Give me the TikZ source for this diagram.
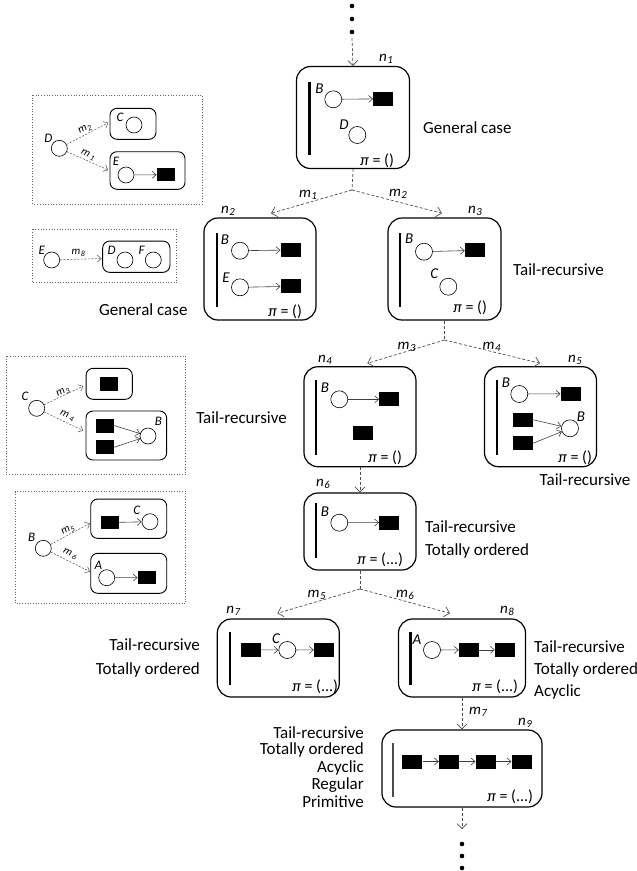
\documentclass[tikz,border=0pt]{standalone}
\usepackage{fontspec}
\setmainfont{Carlito}
\usetikzlibrary{arrows.meta}
\newcommand\sbs[2]{#1\kern0.6pt\raisebox{-0.35ex}{\scalebox{0.72}{#2}}}
\newcommand\sbr[2]{#1\kern1.6pt\raisebox{-0.2ex}{\scalebox{0.72}{#2}}}
\begin{document}
\begin{tikzpicture}[x=1pt,y=-1pt,
 bigbox/.style={draw,rounded corners=14pt,line width=1.2pt,inner sep=0},
 pbox/.style={draw,rounded corners=7pt,line width=0.9pt,inner sep=0},
 st/.style={circle,draw,line width=0.6pt,minimum size=17pt,inner sep=0},
 pst/.style={circle,draw,line width=0.6pt,minimum size=16pt,inner sep=0},
 blk/.style={fill=black,minimum width=20pt,minimum height=14pt,inner sep=0},
 pblk/.style={fill=black,minimum width=18pt,minimum height=13pt,inner sep=0},
 vbar/.style={line width=2.4pt},
 conn/.style={draw=black!70,line width=0.7pt,dash pattern=on 3pt off 2pt,-{Straight Barb[length=5pt,width=10pt]}},
 connl/.style={draw=black!70,line width=0.7pt,dash pattern=on 3pt off 2pt},
 pconn/.style={draw=black!60,line width=0.6pt,dash pattern=on 2pt off 1.5pt,-{Straight Barb[length=4pt,width=7pt]}},
 inarr/.style={draw=black!75,line width=0.6pt,-{Straight Barb[length=4pt,width=7pt]}},
 lbl/.style={font=\fontsize{15}{15}\selectfont\itshape,inner sep=0},
 plbl/.style={font=\fontsize{13}{13}\selectfont\itshape,inner sep=0},
 mlbl/.style={font=\fontsize{11}{11}\selectfont\itshape,inner sep=0},
 pilbl/.style={font=\fontsize{16}{16}\selectfont,inner sep=0},
 txt/.style={font=\fontsize{17}{18}\selectfont,inner sep=0},
 dotbox/.style={draw=black!60,line width=0.7pt,dotted},
]
\useasboundingbox (0,0) rectangle (637,871);

% ---------- top dots
\fill (352,6) circle[radius=2.3pt];
\fill (352,19) circle[radius=2.3pt];
\fill (352,32) circle[radius=2.3pt];
\coordinate (top) at (352,38);

% ---------- n1
\node[bigbox,minimum width=113pt,minimum height=102pt] (n1) at (353,117.5) {};
\draw[vbar] (309.3,81.7) -- (309.3,155);
\node[st] (n1B) at (333.3,99.3) {};
\node[lbl] (n1Bl) at (319.5,88.5) {B};
\node[blk] (n1r) at (383.3,98.8) {};
\node[st] (n1D) at (357.3,135) {};
\node[lbl] (n1Dl) at (344,125) {D};
\node[pilbl] (n1p) at (377,161) {\textit{π} = ()};
\node[lbl] (n1l) at (386,59) {\sbs{n}{1}};
\node[txt,anchor=west] (t1) at (423,128) {General case};
\draw[inarr] (n1B) -- (n1r);
\draw[conn] (top) -- (n1.north);

% ---------- n2
\node[bigbox,minimum width=112pt,minimum height=102pt] (n2) at (260,269) {};
\draw[vbar] (216.7,233) -- (216.7,306.7);
\node[st] (n2B) at (240,250.7) {};
\node[lbl] (n2Bl) at (225,240) {B};
\node[blk] (n2r1) at (290.7,250) {};
\node[st] (n2E) at (240,287.3) {};
\node[lbl] (n2El) at (226,277.7) {E};
\node[blk] (n2r2) at (290.7,286.3) {};
\node[pilbl] (n2p) at (285,312) {\textit{π} = ()};
\node[lbl] (n2l) at (228,211) {\sbs{n}{2}};
\node[txt] (t2) at (143.3,310) {General case};
\draw[inarr] (n2B) -- (n2r1);
\draw[inarr] (n2E) -- (n2r2);

% ---------- n3
\node[bigbox,minimum width=113pt,minimum height=102pt] (n3) at (444.5,269) {};
\draw[vbar] (400,233) -- (400,306.7);
\node[st] (n3B) at (424,251.7) {};
\node[lbl] (n3Bl) at (409.3,238.3) {B};
\node[blk] (n3r) at (475,250.3) {};
\node[st] (n3C) at (448.3,286.7) {};
\node[lbl] (n3Cl) at (434.3,274) {C};
\node[pilbl] (n3p) at (470,308) {\textit{π} = ()};
\node[lbl] (n3l) at (475,211) {\sbs{n}{3}};
\node[txt,anchor=west] (t3) at (513,270) {Tail-recursive};
\draw[inarr] (n3B) -- (n3r);

% split 1
\coordinate (s1) at (352,190);
\coordinate (e1) at (271,213.3);
\coordinate (e2) at (442,213.3);
\draw[connl] (n1.south) -- (s1);
\draw[conn] (s1) -- (e1);
\draw[conn] (s1) -- (e2);
\node[lbl] (m1) at (308,195) {\sbs{m}{1}};
\node[lbl] (m2) at (398,194) {\sbs{m}{2}};

% ---------- n4
\node[bigbox,minimum width=112pt,minimum height=100pt] (n4) at (360,416.7) {};
\draw[vbar] (315.7,380) -- (315.7,455);
\node[st] (n4B) at (339.3,399.3) {};
\node[lbl] (n4Bl) at (325,388) {B};
\node[blk] (n4r1) at (389.3,399.3) {};
\node[blk] (n4r2) at (363.3,433) {};
\node[pilbl] (n4p) at (385,458) {\textit{π} = ()};
\node[lbl] (n4l) at (325,360) {\sbs{n}{4}};
\node[txt,anchor=east] (t4) at (287,418) {Tail-recursive};
\draw[inarr] (n4B) -- (n4r1);

% ---------- n5
\node[bigbox,minimum width=112pt,minimum height=100pt] (n5) at (540.5,416.7) {};
\draw[vbar] (496.7,380) -- (496.7,455);
\node[st] (n5B) at (519.3,394) {};
\node[lbl] (n5Bl) at (506,383) {B};
\node[blk] (n5r1) at (570.7,393.7) {};
\node[blk] (n5r2) at (522.7,419.7) {};
\node[blk] (n5r3) at (522.7,443.3) {};
\node[st] (n5B2) at (570,428.3) {};
\node[lbl] (n5B2l) at (581,416.7) {B};
\node[pilbl] (n5p) at (575,458) {\textit{π} = ()};
\node[lbl] (n5l) at (575,360) {\sbs{n}{5}};
\node[txt] (t5) at (585,480) {Tail-recursive};
\draw[inarr] (n5B) -- (n5r1);
\draw[inarr] (n5r2.east) -- (n5B2);
\draw[inarr] (n5r3.east) -- (n5B2);

% split 2
\coordinate (s2) at (444.5,340);
\coordinate (e3) at (367.3,363.3);
\coordinate (e4) at (540,363.3);
\draw[connl] (n3.south) -- (s2);
\draw[conn] (s2) -- (e3);
\draw[conn] (s2) -- (e4);
\node[lbl] (m3) at (406.7,347) {\sbs{m}{3}};
\node[lbl] (m4) at (491.7,346.7) {\sbs{m}{4}};

% ---------- n6
\node[bigbox,minimum width=112pt,minimum height=77pt] (n6) at (360,531.5) {};
\draw[vbar] (315.7,503) -- (315.7,558);
\node[st] (n6B) at (339.3,522.7) {};
\node[lbl] (n6Bl) at (325,511.7) {B};
\node[blk] (n6r) at (389.3,522.5) {};
\node[pilbl] (n6p) at (380,560) {\textit{π} = (...)};
\node[lbl] (n6l) at (323,484) {\sbs{n}{6}};
\node[txt,anchor=west] (t6a) at (425,527) {Tail-recursive};
\node[txt,anchor=west] (t6b) at (425,551) {Totally ordered};
\draw[inarr] (n6B) -- (n6r);
\draw[conn] (n4.south) -- (n6.north);

% split 3
\coordinate (s3) at (360,589);
\coordinate (e5) at (277.3,613.3);
\coordinate (e6) at (450,613.3);
\draw[connl] (n6.south) -- (s3);
\draw[conn] (s3) -- (e5);
\draw[conn] (s3) -- (e6);
\node[lbl] (m5) at (316.7,595) {\sbs{m}{5}};
\node[lbl] (m6) at (405,595) {\sbs{m}{6}};

% ---------- n7
\node[bigbox,minimum width=122pt,minimum height=78pt] (n7) at (278.3,658) {};
\draw[vbar] (230,631.7) -- (230,685);
\node[blk] (n7r1) at (250.7,649.8) {};
\node[st] (n7C) at (287.3,650) {};
\node[lbl] (n7Cl) at (276,638.3) {C};
\node[blk] (n7r2) at (324,649.8) {};
\node[pilbl] (n7p) at (315,687) {\textit{π} = (...)};
\node[lbl] (n7l) at (233.3,611) {\sbs{n}{7}};
\node[txt,anchor=east] (t7a) at (200,645) {Tail-recursive};
\node[txt,anchor=east] (t7b) at (200,670) {Totally ordered};
\draw[inarr] (n7r1) -- (n7C);
\draw[inarr] (n7C) -- (n7r2);

% ---------- n8
\node[bigbox,minimum width=127pt,minimum height=78pt] (n8) at (462,658) {};
\draw[vbar] (410.5,631.7) -- (410.5,685);
\node[st] (n8A) at (432,650) {};
\node[lbl] (n8Al) at (417,640) {A};
\node[blk] (n8r1) at (469,649.8) {};
\node[blk] (n8r2) at (505,649.8) {};
\node[pilbl] (n8p) at (495,687) {\textit{π} = (...)};
\node[lbl] (n8l) at (507,611) {\sbs{n}{8}};
\node[txt,anchor=west] (t8a) at (534,647) {Tail-recursive};
\node[txt,anchor=west] (t8b) at (534,670) {Totally ordered};
\node[txt,anchor=west] (t8c) at (534,692) {Acyclic};
\draw[inarr] (n8A) -- (n8r1);
\draw[inarr] (n8r1) -- (n8r2);

% ---------- n9
\node[bigbox,minimum width=160pt,minimum height=77pt] (n9) at (462,768.5) {};
\draw[line width=1.6pt,black!70] (392.7,743) -- (392.7,796.7);
\node[blk] (n9r1) at (412.3,761.5) {};
\node[blk] (n9r2) at (449,761.5) {};
\node[blk] (n9r3) at (485.7,761.5) {};
\node[blk] (n9r4) at (521.7,761.5) {};
\node[pilbl] (n9p) at (510,797) {\textit{π} = (...)};
\node[lbl] (n9l) at (525,723) {\sbs{n}{9}};
\node[lbl] (m7) at (478,712) {\sbs{m}{7}};
\node[txt,anchor=east] (t9a) at (364,733) {Tail-recursive};
\node[txt,anchor=east] (t9b) at (364,750) {Totally ordered};
\node[txt,anchor=east] (t9c) at (364,768) {Acyclic};
\node[txt,anchor=east] (t9d) at (364,785) {Regular};
\node[txt,anchor=east] (t9e) at (364,802) {Primitive};
\draw[inarr] (n9r1) -- (n9r2);
\draw[inarr] (n9r2) -- (n9r3);
\draw[inarr] (n9r3) -- (n9r4);
\draw[conn] (n8.south) -- (n9.north);
\coordinate (bot) at (462,829);
\draw[conn] (n9.south) -- (bot);
\fill (462,844) circle[radius=2.3pt];
\fill (462,856) circle[radius=2.3pt];
\fill (462,868) circle[radius=2.3pt];

% ---------- panel 1
\draw[dotbox] (32.7,95) rectangle (202.3,204);
\node[pst] (p1D) at (59.3,148.3) {};
\node[plbl] (p1Dl) at (48.3,138.3) {D};
\node[pbox,minimum width=46pt,minimum height=31pt] (p1b1) at (133,123.8) {};
\node[pst] (p1C) at (134,125) {};
\node[plbl] (p1Cl) at (120,117.7) {C};
\node[pbox,minimum width=75pt,minimum height=37.6pt] (p1b2) at (147.5,170.5) {};
\node[pst] (p1E) at (126,175) {};
\node[plbl] (p1El) at (116,161.7) {E};
\node[pblk] (p1r) at (165.8,174.7) {};
\draw[inarr] (p1E) -- (p1r);
\coordinate (p1e1) at (108.3,122.7);
\coordinate (p1e2) at (108.3,170);
\draw[pconn] (p1D) -- (p1e1);
\draw[pconn] (p1D) -- (p1e2);
\node[mlbl,rotate=27] (p1m2) at (85,129) {\sbs{m}{2}};
\node[mlbl,rotate=-27] (p1m1) at (88,155) {\sbr{m}{1}};

% ---------- panel 2
\draw[dotbox] (32.7,229.3) rectangle (176.7,282.7);
\node[pst] (p2E) at (51.7,260) {};
\node[plbl] (p2El) at (41.7,250) {E};
\node[pbox,minimum width=67.3pt,minimum height=31.3pt] (p2b) at (136.3,256.7) {};
\node[pst] (p2D) at (125,260) {};
\node[plbl] (p2Dl) at (111.7,250) {D};
\node[pst] (p2F) at (153.3,260) {};
\node[plbl] (p2Fl) at (141.7,250) {F};
\coordinate (p2e) at (101.7,258.5);
\draw[pconn] (p2E) -- (p2e);
\node[mlbl] (p2m8) at (78.3,252.5) {\sbs{m}{8}};

% ---------- panel 3
\draw[dotbox] (6,356) rectangle (185.7,474.3);
\node[pst] (p3C) at (36.7,408.3) {};
\node[plbl] (p3Cl) at (25,396) {C};
\node[pbox,minimum width=46.3pt,minimum height=31pt] (p3b1) at (109.2,383.8) {};
\node[pblk,minimum height=14pt] (p3r1) at (109.2,383.7) {};
\node[pbox,minimum width=80.7pt,minimum height=49pt] (p3b2) at (126.3,435.5) {};
\node[pblk,minimum height=14pt] (p3r2) at (104.8,425.5) {};
\node[pblk,minimum height=14pt] (p3r3) at (104.8,447.3) {};
\node[pst] (p3B) at (148,436) {};
\node[plbl] (p3Bl) at (158.3,421.7) {B};
\draw[inarr] (p3r2.east) -- (p3B);
\draw[inarr] (p3r3.east) -- (p3B);
\coordinate (p3e1) at (83.3,386);
\coordinate (p3e2) at (83.3,430.7);
\draw[pconn] (p3C) -- (p3e1);
\draw[pconn] (p3C) -- (p3e2);
\node[mlbl,rotate=26] (p3m3) at (63,392) {\sbs{m}{3}};
\node[mlbl,rotate=-25] (p3m4) at (67,416) {\sbr{m}{4}};

% ---------- panel 4
\draw[dotbox] (15,491.7) rectangle (185.7,603.3);
\node[pst] (p4B) at (43.3,548.3) {};
\node[plbl] (p4Bl) at (31.7,537.3) {B};
\node[pbox,minimum width=76pt,minimum height=39.3pt] (p4b1) at (128.7,518.7) {};
\node[pblk] (p4r1) at (109.8,522.5) {};
\node[pst] (p4C) at (150,521.7) {};
\node[plbl] (p4Cl) at (136.7,510.7) {C};
\draw[inarr] (p4r1) -- (p4C);
\node[pbox,minimum width=76pt,minimum height=40pt] (p4b2) at (128.7,573.3) {};
\node[pst] (p4A) at (106.7,577.7) {};
\node[plbl] (p4Al) at (98.3,565) {A};
\node[pblk] (p4r2) at (146.8,577.5) {};
\draw[inarr] (p4A) -- (p4r2);
\coordinate (p4e1) at (90,523.3);
\coordinate (p4e2) at (90,571.7);
\draw[pconn] (p4B) -- (p4e1);
\draw[pconn] (p4B) -- (p4e2);
\node[mlbl,rotate=26] (p4m5) at (68,530) {\sbs{m}{5}};
\node[mlbl,rotate=-27] (p4m6) at (70,554) {\sbr{m}{6}};
\end{tikzpicture}
\end{document}
